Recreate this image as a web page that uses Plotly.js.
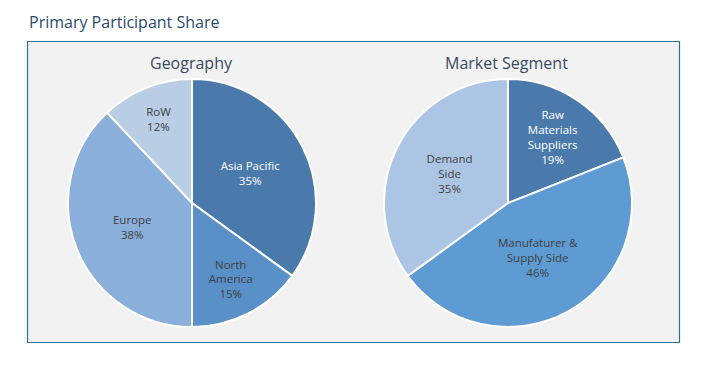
<!DOCTYPE html>
<html>
<head>
<meta charset="utf-8">
<script src="https://cdn.plot.ly/plotly-3.0.1.min.js"></script>
<style>html,body{margin:0;padding:0;background:#fff;}#chart{width:711px;height:376px;}</style>
</head>
<body>
<div id="chart"></div>
<script>
// Geography
const geoCategories = ['Asia Pacific', 'North America', 'Europe', 'RoW'];
const geoText = ['Asia Pacific', 'North<br>America', 'Europe', 'RoW'];
const geoValues = [35, 15, 38, 12];
const geoColors = ['#4A7AAB', '#5990C7', '#8AAFDA', '#B9CDE5'];
const geoTextColors = ['#FFFFFF', '#404040', '#404040', '#404040'];

// Market Segment
const segCategories = ['Raw Materials Suppliers', 'Manufaturer & Supply Side', 'Demand Side'];
const segText = ['Raw<br>Materials<br>Suppliers', 'Manufaturer &<br>Supply Side', 'Demand<br>Side'];
const segValues = [19, 46, 35];
const segColors = ['#4A7AAB', '#5E9BD3', '#ADC5E5'];
const segTextColors = ['#FFFFFF', '#404040', '#404040'];

const W = 711, H = 376;
const px = v => v / W;
const py = v => 1 - v / H;

const font = 'Open Sans, Liberation Sans, sans-serif';

const traces = [
  {
    type: 'pie',
    labels: geoCategories,
    values: geoValues,
    text: geoText,
    sort: false,
    direction: 'clockwise',
    rotation: 0,
    marker: {colors: geoColors, line: {color: '#FFFFFF', width: 2}},
    texttemplate: '%{text}<br>%{value}%',
    textposition: 'inside',
    insidetextorientation: 'horizontal',
    textfont: {family: font, size: 11.5, color: geoTextColors},
    hoverinfo: 'label+percent',
    domain: {x: [px(68), px(316)], y: [py(327), py(79)]},
    showlegend: false
  },
  {
    type: 'pie',
    labels: segCategories,
    values: segValues,
    text: segText,
    sort: false,
    direction: 'clockwise',
    rotation: 0,
    marker: {colors: segColors, line: {color: '#FFFFFF', width: 2}},
    texttemplate: '%{text}<br>%{value}%',
    textposition: 'inside',
    insidetextorientation: 'horizontal',
    textfont: {family: font, size: 11.5, color: segTextColors},
    hoverinfo: 'label+percent',
    domain: {x: [px(384), px(632)], y: [py(327), py(79)]},
    showlegend: false
  }
];

const layout = {
  width: W, height: H,
  margin: {l: 0, r: 0, t: 0, b: 0},
  paper_bgcolor: '#FFFFFF',
  showlegend: false,
  shapes: [{
    type: 'rect', xref: 'paper', yref: 'paper', layer: 'below',
    x0: px(27.5), x1: px(679.5), y0: py(342.5), y1: py(41.5),
    fillcolor: '#F2F2F2', line: {color: '#2E7090', width: 1.2}
  }],
  annotations: [
    {text: 'Primary Participant Share', xref: 'paper', yref: 'paper', x: px(27), y: py(22),
     xanchor: 'left', yanchor: 'middle', showarrow: false,
     font: {family: font, size: 16, color: '#2B4A6B'}},
    {text: 'Geography', xref: 'paper', yref: 'paper', x: px(192), y: py(63),
     xanchor: 'center', yanchor: 'middle', showarrow: false,
     font: {family: font, size: 16, color: '#3A4A5F'}},
    {text: 'Market Segment', xref: 'paper', yref: 'paper', x: px(506), y: py(63),
     xanchor: 'center', yanchor: 'middle', showarrow: false,
     font: {family: font, size: 16, color: '#3A4A5F'}}
  ]
};

Plotly.newPlot('chart', traces, layout, {displayModeBar: false, staticPlot: true});
</script>
</body>
</html>
